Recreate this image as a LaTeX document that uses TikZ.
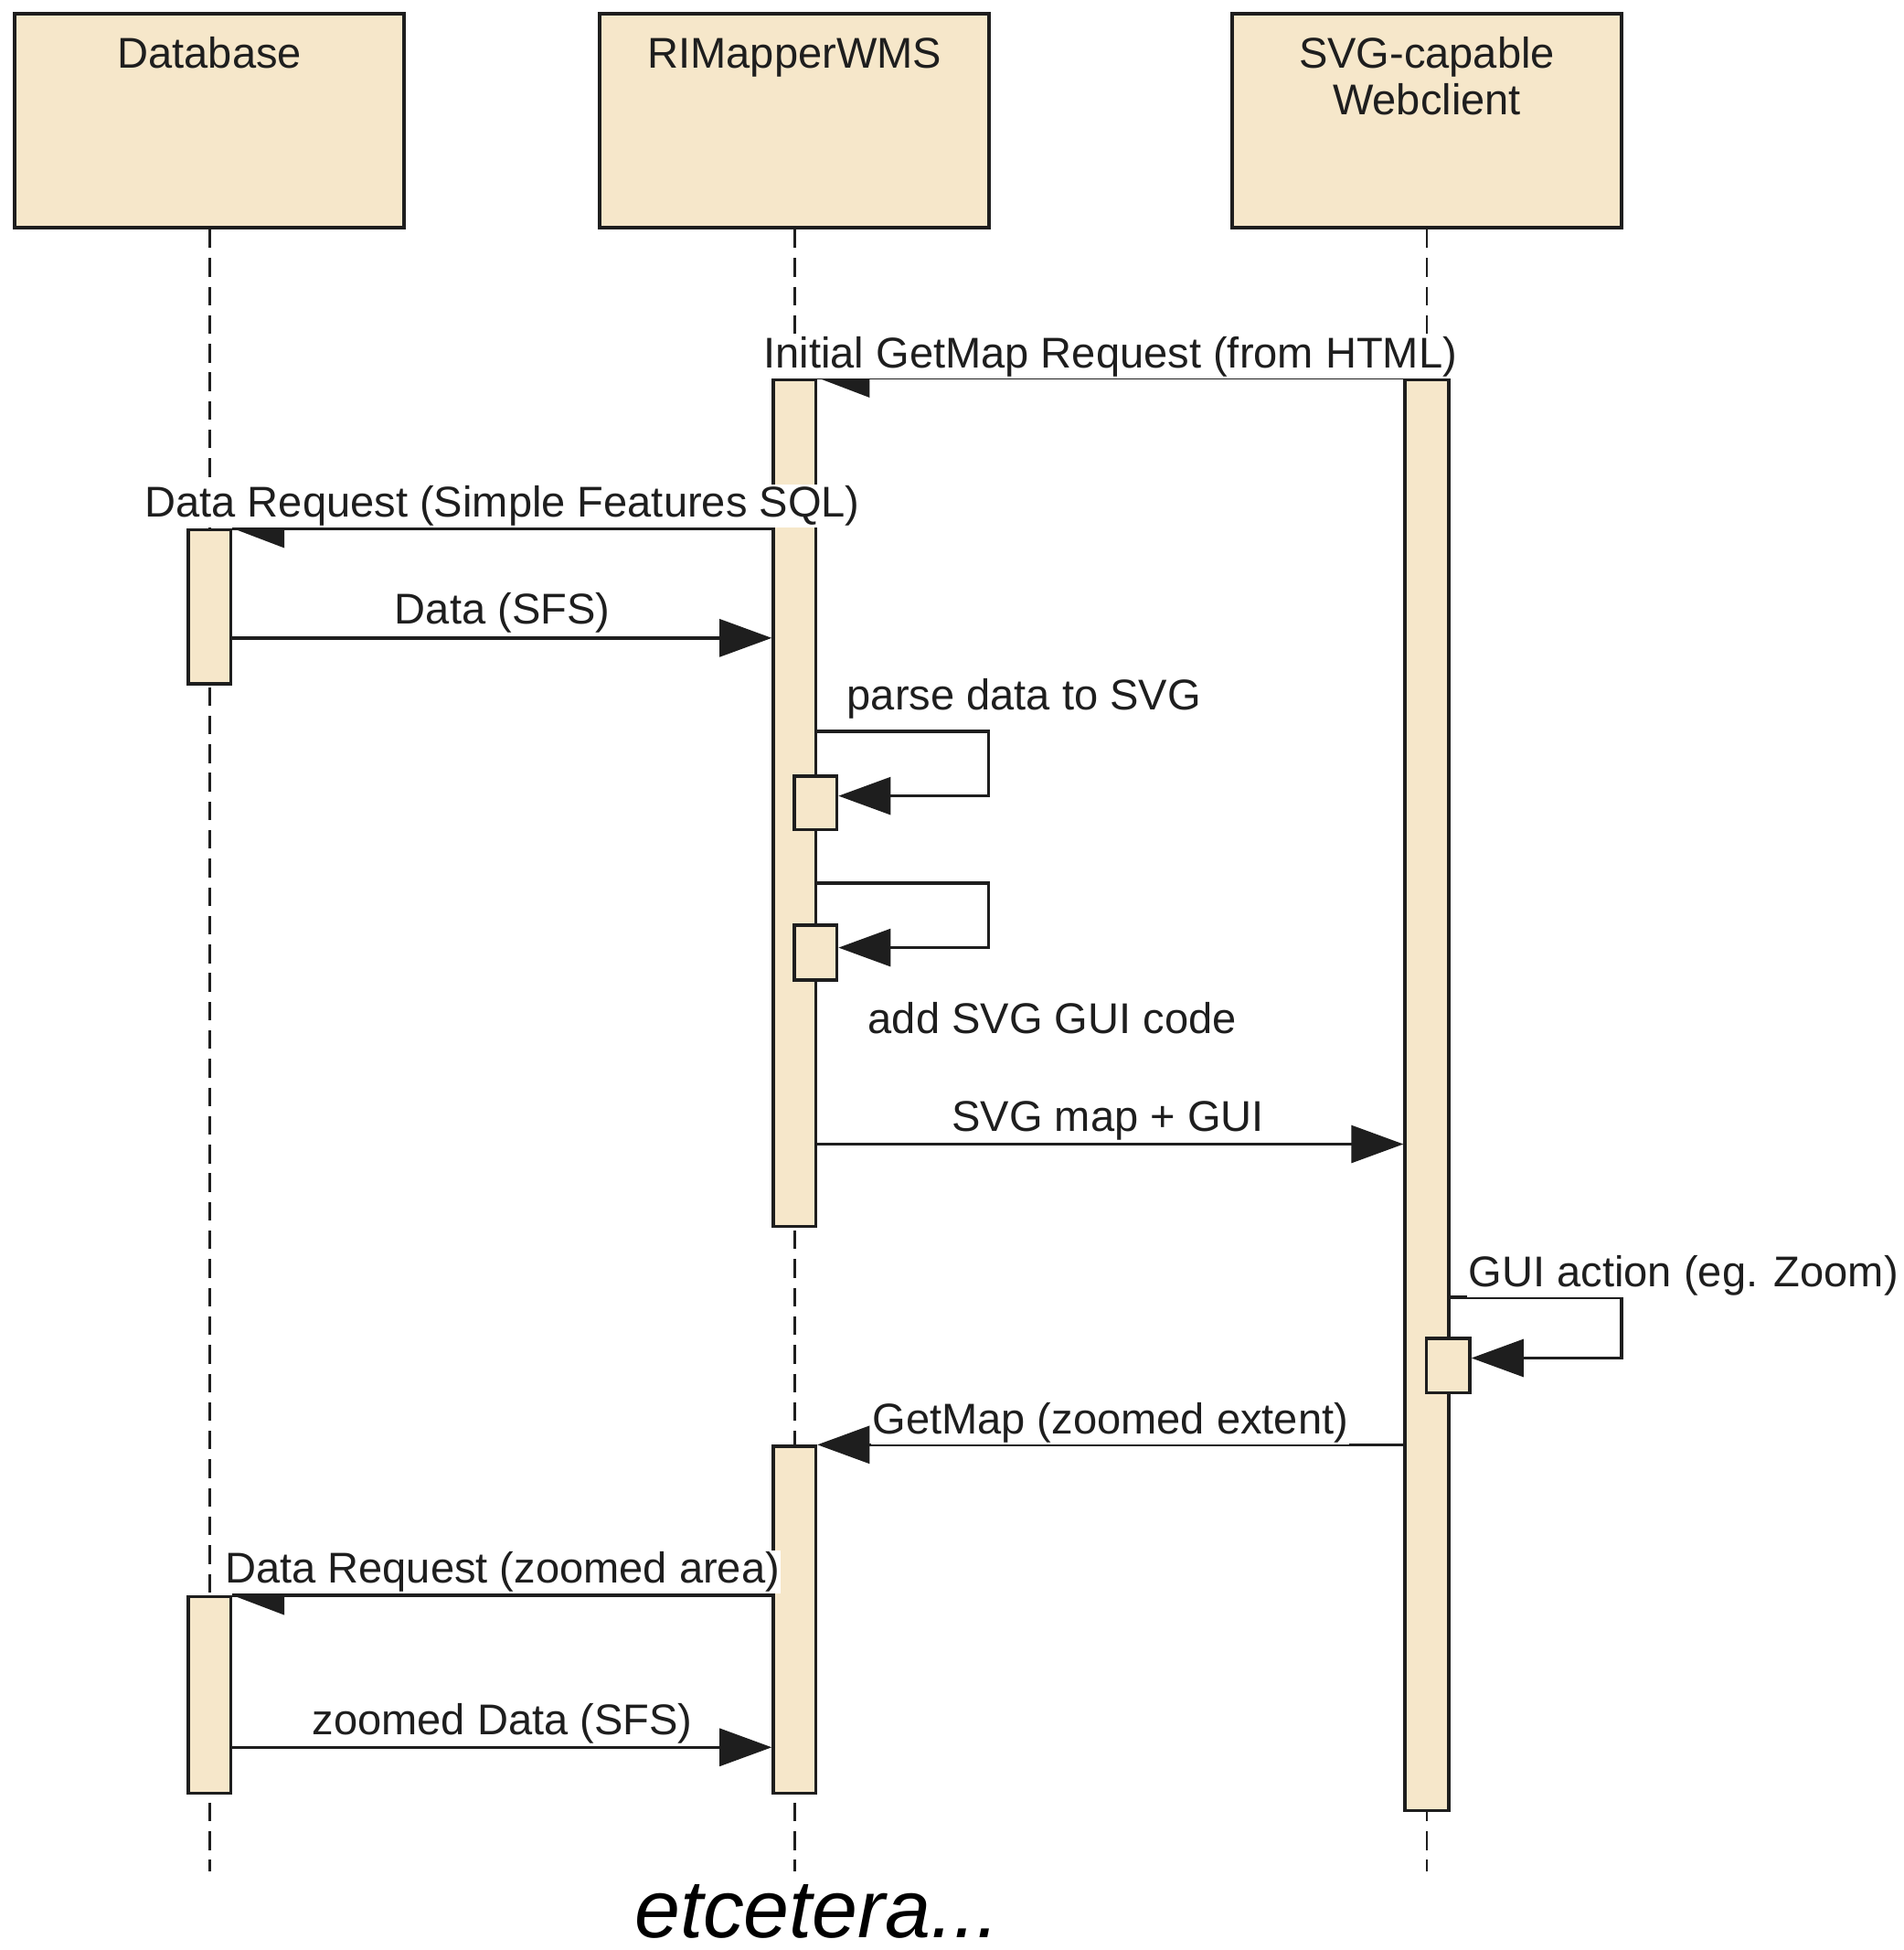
\documentclass[tikz,border=0pt]{standalone}
\usepackage{fontspec}
\setmainfont{Liberation Sans}
\usetikzlibrary{arrows.meta,calc}
\definecolor{beige}{RGB}{246,231,202}
\definecolor{ink}{RGB}{30,30,30}
\begin{document}
\begin{tikzpicture}[x=1pt,y=-1pt,
  font=\fontsize{34.6}{37}\selectfont,
  head/.style={draw=ink, fill=beige, line width=3pt, rectangle, minimum width=313pt, minimum height=172pt, inner sep=0pt},
  bar/.style={draw=ink, fill=beige, line width=2.6pt, rectangle, inner sep=0pt, minimum width=34pt},
  life/.style={draw=ink, line width=2pt, dash pattern=on 15pt off 8pt},
  msg/.style={draw=ink, line width=2.6pt, line join=miter},
  sync/.style={msg, -{Triangle[length=42pt,width=30pt]}},
  lbl/.style={fill=white, inner sep=1pt, anchor=base, text=ink},
  htext/.style={anchor=base, text=ink, inner sep=0pt, align=center}
]
\useasboundingbox (0,0) rectangle (1531,1568);

% heads
\node[head] (db)  at (168.5,97) {};
\node[head] (wms) at (639,97) {};
\node[head] (web) at (1147.5,97) {};
\node[htext] (dbt)  at (168.5,55) {Database};
\node[htext] (wmst) at (639,55) {RIMapperWMS};
\node[htext] (webt) at (1147.5,92) {SVG-capable\\Webclient};

% lifelines
\coordinate (dbEnd)  at (168.5,1505);
\coordinate (wmsEnd) at (639,1505);
\coordinate (webEnd) at (1147.5,1505);
\draw[life] (db.south) -- (dbEnd);
\draw[life] (wms.south) -- (wmsEnd);
\draw[life] (web.south) -- (webEnd);

% activation bars
\node[bar, minimum height=681pt]  (wmsA) at (639,645.5) {};
\node[bar, minimum height=1151pt, minimum width=35pt] (webA) at (1147.5,880.5) {};
\node[bar, minimum height=124pt]  (dbA)  at (168.5,488) {};
\node[bar, minimum height=43pt]   (s1)   at (656,645.5) {};
\node[bar, minimum height=44pt]   (s2)   at (656,766) {};
\node[bar, minimum height=44pt, minimum width=35pt] (s3) at (1164.5,1098) {};
\node[bar, minimum height=279pt]  (wmsB) at (639,1302.5) {};
\node[bar, minimum height=158pt]  (dbB)  at (168.5,1363) {};

% y levels
\coordinate (ySFS) at (0,513);
\coordinate (yMap) at (0,920);
\coordinate (yZD)  at (0,1405);
\coordinate (l1a) at (795,588);
\coordinate (l1b) at (795,640);
\coordinate (l2a) at (795,710);
\coordinate (l2b) at (795,762);
\coordinate (l3a) at (1304,1043);
\coordinate (l3b) at (1304,1092);

% messages
\draw[msg] (webA.north west) -- (wmsA.north east);
\fill[ink] (wmsA.north east) -- ++(42,0) -- ++(0,16) -- cycle;

\draw[msg] (dbA.north -| wmsA.west) -- (dbA.north east);
\fill[ink] (dbA.north east) -- ++(42,0) -- ++(0,16) -- cycle;

\draw[sync] (dbA.east |- ySFS) -- (wmsA.west |- ySFS);

\draw[sync] (wmsA.east |- l1a) -- (l1a) -- (l1b) -- (s1.east |- l1b);
\draw[sync] (wmsA.east |- l2a) -- (l2a) -- (l2b) -- (s2.east |- l2b);

\draw[sync] (wmsA.east |- yMap) -- (webA.west |- yMap);

\draw[sync] (webA.east |- l3a) -- (l3a) -- (l3b) -- (s3.east |- l3b);

\draw[sync] (webA.west |- wmsB.north) -- (wmsB.north east);

\draw[msg] (dbB.north -| wmsB.west) -- (dbB.north east);
\fill[ink] (dbB.north east) -- ++(42,0) -- ++(0,16) -- cycle;

\draw[sync] (dbB.east |- yZD) -- (wmsB.west |- yZD);

% labels
\node[lbl] (t1) at (893,296) {Initial GetMap Request (from HTML)};
\node[lbl] (t2) at (404,416) {Data Request (Simple Features SQL)};
\node[lbl] (t3) at (404,502) {Data (SFS)};
\node[lbl, anchor=base west] (t4) at (680,571) {parse data to SVG};
\node[lbl, anchor=base west] (t5) at (697,831) {add SVG GUI code};
\node[lbl] (t6) at (891,910) {SVG map + GUI};
\node[lbl, anchor=base west] (t7) at (1180,1035) {GUI action (eg. Zoom)};
\node[lbl] (t8) at (893,1153) {GetMap (zoomed extent)};
\node[lbl] (t9) at (404,1273) {Data Request (zoomed area)};
\node[lbl] (t10) at (404,1395) {zoomed Data (SFS)};
\node[anchor=base, inner sep=0pt, text=black, font=\fontsize{66}{70}\selectfont\itshape] (etc) at (657,1558) {etcetera...};
\end{tikzpicture}
\end{document}
